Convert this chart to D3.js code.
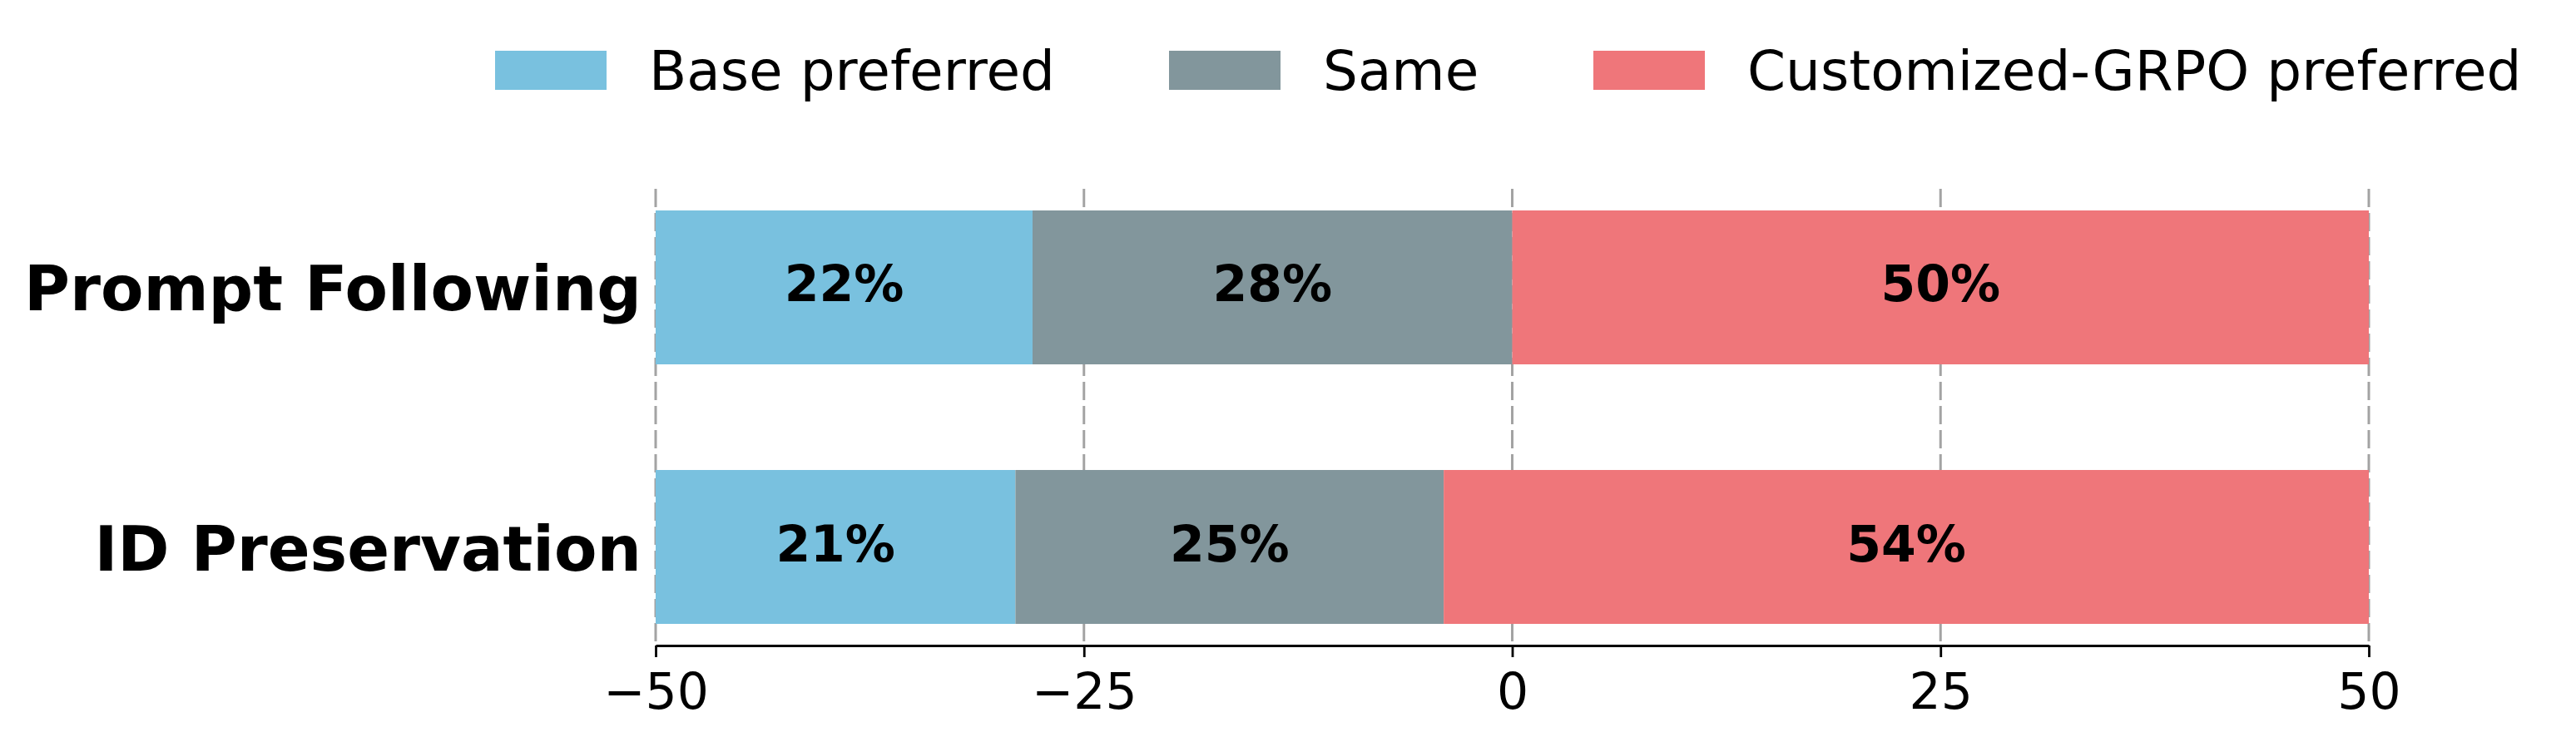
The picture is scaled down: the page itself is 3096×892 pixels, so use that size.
<!DOCTYPE html>
<html>
<head>
<meta charset="utf-8">
<script src="https://cdn.jsdelivr.net/npm/d3@7"></script>
<style>
  html, body { margin: 0; padding: 0; background: #ffffff; }
  svg { display: block; font-family: "DejaVu Sans", sans-serif; }
</style>
</head>
<body>
<svg id="chart" width="3096" height="892"></svg>
<script>
// ---- data ----
const categories = ["Prompt Following", "ID Preservation"];
const seriesNames = ["Base preferred", "Same", "Customized-GRPO preferred"];
const basePreferred = [22, 21];
const same = [28, 25];
const customizedPreferred = [50, 54];
const xTicks = [-50, -25, 0, 25, 50];
const colors = ["#79c1df", "#82969c", "#ef767a"];

const seriesValues = [basePreferred, same, customizedPreferred];

const svg = d3.select("#chart");

const x = d3.scaleLinear().domain([-50, 50]).range([788, 2847]);
const y = d3.scaleBand().domain(categories).range([227, 776])
  .paddingInner(0.407).paddingOuter(0.0833);

// gridlines (behind bars)
svg.append("g").selectAll("line").data(xTicks).join("line")
  .attr("x1", d => x(d)).attr("x2", d => x(d))
  .attr("y1", 227).attr("y2", 776)
  .attr("stroke", "#999999").attr("stroke-opacity", 0.9)
  .attr("stroke-width", 3).attr("stroke-dasharray", "22,7");

// stacked segments starting at -50
const segs = [];
categories.forEach((c, i) => {
  let start = -50;
  seriesValues.forEach((vals, s) => {
    const v = vals[i];
    segs.push({ cat: c, s, x0: start, x1: start + v, v });
    start += v;
  });
});

svg.append("g").selectAll("rect").data(segs).join("rect")
  .attr("x", d => x(d.x0))
  .attr("width", d => x(d.x1) - x(d.x0))
  .attr("y", d => y(d.cat))
  .attr("height", y.bandwidth())
  .attr("fill", d => colors[d.s]);

// percentage labels
svg.append("g").selectAll("text").data(segs).join("text")
  .attr("x", d => x((d.x0 + d.x1) / 2))
  .attr("y", d => y(d.cat) + y.bandwidth() / 2 + 17)
  .attr("text-anchor", "middle")
  .attr("font-size", 60).attr("font-weight", "bold").attr("fill", "#000")
  .text(d => d.v + "%");

// category labels
svg.append("g").selectAll("text").data(categories).join("text")
  .attr("x", 771)
  .attr("y", d => y(d) + y.bandwidth() / 2 + 28)
  .attr("text-anchor", "end")
  .attr("font-size", 75).attr("font-weight", "bold").attr("fill", "#000")
  .text(d => d);

// x axis
const ax = svg.append("g").attr("transform", "translate(0,776)")
  .call(d3.axisBottom(x).tickValues(xTicks).tickSize(14).tickSizeOuter(0)
    .tickFormat(d => (d < 0 ? "\u2212" + Math.abs(d) : String(d))));
ax.select(".domain").attr("stroke", "#000").attr("stroke-width", 2.8);
ax.selectAll(".tick line").attr("stroke", "#000").attr("stroke-width", 2.8);
ax.selectAll(".tick text").attr("font-size", 60).attr("font-family", "DejaVu Sans")
  .attr("fill", "#000").attr("y", 76).attr("dy", 0);

// legend
const legendX = [595, 1405, 1915];
const lg = svg.append("g").selectAll("g").data(seriesNames).join("g")
  .attr("transform", (d, i) => `translate(${legendX[i]},0)`);
lg.append("rect").attr("x", 0).attr("y", 61).attr("width", 134).attr("height", 47)
  .attr("fill", (d, i) => colors[i]);
lg.append("text").attr("x", 185).attr("y", 108)
  .attr("font-size", 66).attr("fill", "#000").text(d => d);
</script>
</body>
</html>
